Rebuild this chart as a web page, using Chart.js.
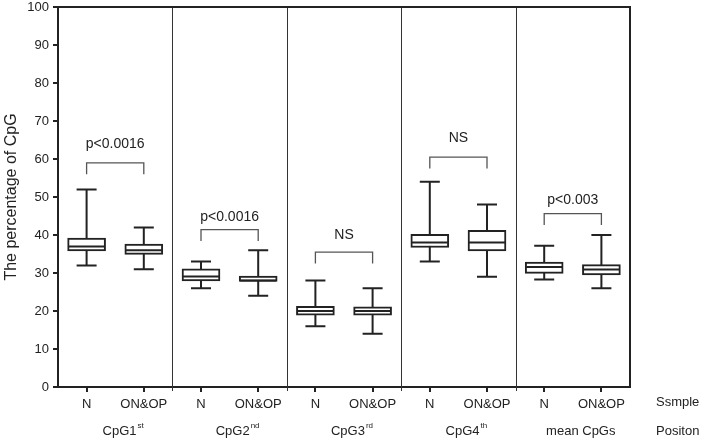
<!DOCTYPE html>
<html>
<head>
<meta charset="utf-8">
<script src="https://cdn.jsdelivr.net/npm/chart.js@4"></script>
<style>
  html, body { margin: 0; padding: 0; background: #fff; }
  #wrap { width: 704px; height: 442px; position: relative; }
</style>
</head>
<body>
<div id="wrap"><canvas id="cpg-chart"></canvas></div>
<script>
// categories: two samples per CpG position
const categories = ['N', 'ON&OP', 'N', 'ON&OP', 'N', 'ON&OP', 'N', 'ON&OP', 'N', 'ON&OP'];
const groups = ['CpG1', 'CpG2', 'CpG3', 'CpG4', 'mean CpGs'];
const groupSup = ['st', 'nd', 'rd', 'th', ''];

// box plot values
const whiskerLow  = [32, 31, 26, 24, 16, 14, 33, 29, 28.3, 26];
const boxLow      = [35.8, 34.9, 27.9, 27.8, 18.9, 18.9, 36.7, 35.8, 29.9, 29.5];
const medians     = [37, 36, 29.1, 28, 20, 20, 38, 38, 31.6, 30.9];
const boxHigh     = [39.2, 37.6, 31.1, 29.2, 21.2, 21.1, 40.2, 41.2, 32.9, 32.2];
const whiskerHigh = [52, 42, 33, 36, 28, 26, 54, 48, 37.2, 40];

// significance brackets, one per group
const pLabels   = ['p<0.0016', 'p<0.0016', 'NS', 'NS', 'p<0.003'];
const bracketY  = [59, 41.4, 35.5, 60.5, 45.6];
const bracketLeg = [3, 3, 3, 3, 3];
const pLabelY   = [64, 44.7, 40, 65.5, 49.1];

const yTicks = [0, 10, 20, 30, 40, 50, 60, 70, 80, 90, 100];

const FONT = '"Liberation Sans", Arial, Helvetica, sans-serif';
const INK = '#222';

/* --------- whiskers, medians, brackets, frame --------- */
const boxExtras = {
  id: 'boxExtras',
  beforeDatasetsDraw(chart) {
    const {ctx, scales: {x, y}} = chart;
    ctx.save();
    ctx.strokeStyle = INK;
    ctx.lineWidth = 2;
    whiskerLow.forEach((lo, i) => {
      const cx = x.getPixelForValue(i);
      ctx.beginPath();
      ctx.moveTo(cx, y.getPixelForValue(lo));
      ctx.lineTo(cx, y.getPixelForValue(whiskerHigh[i]));
      [lo, whiskerHigh[i]].forEach(v => {
        const py = y.getPixelForValue(v);
        ctx.moveTo(cx - 10, py);
        ctx.lineTo(cx + 10, py);
      });
      ctx.stroke();
    });
    ctx.restore();
  },
  afterDatasetsDraw(chart) {
    const {ctx, chartArea: a, scales: {x, y}} = chart;
    ctx.save();
    // medians
    ctx.strokeStyle = INK;
    ctx.lineWidth = 2;
    medians.forEach((m, i) => {
      const cx = x.getPixelForValue(i);
      const py = y.getPixelForValue(m);
      ctx.beginPath();
      ctx.moveTo(cx - 18, py);
      ctx.lineTo(cx + 18, py);
      ctx.stroke();
    });

    // panel separators
    ctx.strokeStyle = '#333';
    ctx.lineWidth = 1;
    for (let g = 1; g < groups.length; g++) {
      const sx = Math.round((x.getPixelForValue(2 * g - 1) + x.getPixelForValue(2 * g)) / 2) + 0.5;
      ctx.beginPath();
      ctx.moveTo(sx, a.top);
      ctx.lineTo(sx, a.bottom + 4);
      ctx.stroke();
    }

    // top and right frame
    ctx.strokeStyle = INK;
    ctx.lineWidth = 2;
    ctx.beginPath();
    ctx.moveTo(a.left, a.top);
    ctx.lineTo(a.right, a.top);
    ctx.lineTo(a.right, a.bottom);
    ctx.stroke();

    // significance brackets
    ctx.strokeStyle = '#555';
    ctx.lineWidth = 1.3;
    ctx.fillStyle = INK;
    ctx.font = '14px ' + FONT;
    ctx.textAlign = 'center';
    ctx.textBaseline = 'middle';
    pLabels.forEach((t, g) => {
      const x1 = x.getPixelForValue(2 * g);
      const x2 = x.getPixelForValue(2 * g + 1);
      const top = y.getPixelForValue(bracketY[g]);
      const bot = y.getPixelForValue(bracketY[g] - bracketLeg[g]);
      ctx.beginPath();
      ctx.moveTo(x1, bot);
      ctx.lineTo(x1, top);
      ctx.lineTo(x2, top);
      ctx.lineTo(x2, bot);
      ctx.stroke();
      ctx.fillText(t, (x1 + x2) / 2, y.getPixelForValue(pLabelY[g]));
    });

    // group labels with superscripts
    const gy = 431;
    groups.forEach((name, g) => {
      const cx = (x.getPixelForValue(2 * g) + x.getPixelForValue(2 * g + 1)) / 2 + 8;
      ctx.font = '13px ' + FONT;
      const w1 = ctx.measureText(name).width;
      ctx.font = '8px ' + FONT;
      const w2 = groupSup[g] ? ctx.measureText(groupSup[g]).width + 1 : 0;
      const start = cx - (w1 + w2) / 2;
      ctx.textAlign = 'left';
      ctx.font = '13px ' + FONT;
      ctx.fillText(name, start, gy);
      if (groupSup[g]) {
        ctx.font = '8px ' + FONT;
        ctx.fillText(groupSup[g], start + w1 + 1, gy - 5);
      }
    });

    // row captions on the right
    ctx.font = '13px ' + FONT;
    ctx.textAlign = 'left';
    ctx.fillText('Ssmple', 656, 402);
    ctx.fillText('Positon', 656, 431);
    ctx.restore();
  }
};

const ctx = document.getElementById('cpg-chart').getContext('2d');
new Chart(ctx, {
  type: 'bar',
  data: {
    labels: categories,
    datasets: [{
      label: 'IQR',
      data: boxLow.map((lo, i) => [lo, boxHigh[i]]),
      backgroundColor: '#fff',
      borderColor: INK,
      borderWidth: 2,
      borderSkipped: false,
      barThickness: 38
    }]
  },
  options: {
    responsive: true,
    maintainAspectRatio: false,
    animation: false,
    layout: { padding: { top: 7, right: 74, left: 0, bottom: 0 } },
    plugins: {
      legend: { display: false },
      tooltip: { enabled: false }
    },
    scales: {
      x: {
        afterFit: s => { s.height = 55; s.paddingLeft = 0; s.paddingRight = 0; },
        grid: { offset: false, drawOnChartArea: false, drawTicks: true, tickLength: 5, color: INK, lineWidth: 2 },
        border: { display: true, color: INK, width: 2 },
        ticks: { color: INK, font: { family: FONT, size: 13 }, padding: 5, maxRotation: 0, autoSkip: false }
      },
      y: {
        min: 0,
        max: 100,
        afterFit: s => { s.width = 58; s.paddingTop = 0; s.paddingBottom = 0; },
        afterBuildTicks: s => { s.ticks = yTicks.map(v => ({ value: v })); },
        grid: { drawOnChartArea: false, drawTicks: true, tickLength: 5, color: INK, lineWidth: 2 },
        border: { display: true, color: INK, width: 2 },
        ticks: { color: INK, font: { family: FONT, size: 13 }, padding: 4 },
        title: {
          display: true,
          text: 'The percentage of CpG',
          color: INK,
          font: { family: FONT, size: 16 },
          padding: { top: 2, bottom: 0 }
        }
      }
    }
  },
  plugins: [boxExtras]
});
</script>
</body>
</html>
